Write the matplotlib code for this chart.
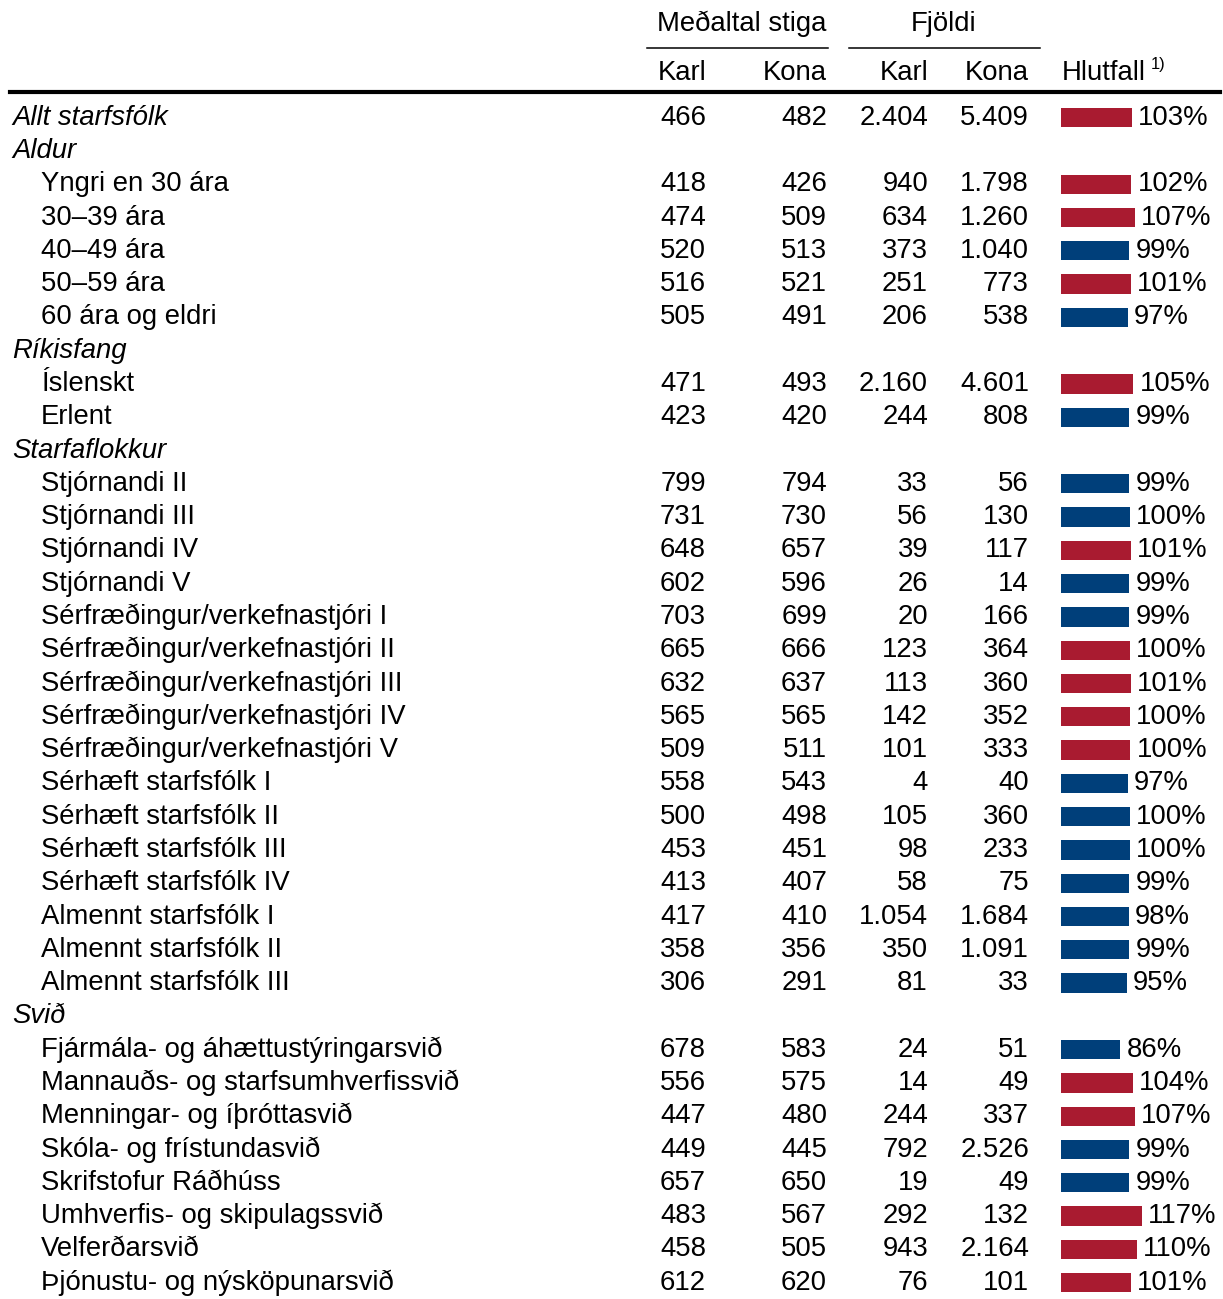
import matplotlib
matplotlib.use("Agg")
import matplotlib.pyplot as plt

plt.rcParams['font.family'] = ['Liberation Sans', 'DejaVu Sans']

# gogn
flokkar = ["Allt starfsfólk", "Aldur", "Ríkisfang", "Starfaflokkur", "Svið"]
merki = [
    "Allt starfsfólk",
    "Aldur",
    "Yngri en 30 ára", "30–39 ára", "40–49 ára", "50–59 ára", "60 ára og eldri",
    "Ríkisfang",
    "Íslenskt", "Erlent",
    "Starfaflokkur",
    "Stjórnandi II", "Stjórnandi III", "Stjórnandi IV", "Stjórnandi V",
    "Sérfræðingur/verkefnastjóri I", "Sérfræðingur/verkefnastjóri II",
    "Sérfræðingur/verkefnastjóri III", "Sérfræðingur/verkefnastjóri IV",
    "Sérfræðingur/verkefnastjóri V",
    "Sérhæft starfsfólk I", "Sérhæft starfsfólk II", "Sérhæft starfsfólk III",
    "Sérhæft starfsfólk IV",
    "Almennt starfsfólk I", "Almennt starfsfólk II", "Almennt starfsfólk III",
    "Svið",
    "Fjármála- og áhættustýringarsvið", "Mannauðs- og starfsumhverfissvið",
    "Menningar- og íþróttasvið", "Skóla- og frístundasvið", "Skrifstofur Ráðhúss",
    "Umhverfis- og skipulagssvið", "Velferðarsvið", "Þjónustu- og nýsköpunarsvið",
]
stig_karl = [466, None, 418, 474, 520, 516, 505, None, 471, 423, None,
             799, 731, 648, 602, 703, 665, 632, 565, 509, 558, 500, 453, 413,
             417, 358, 306, None, 678, 556, 447, 449, 657, 483, 458, 612]
stig_kona = [482, None, 426, 509, 513, 521, 491, None, 493, 420, None,
             794, 730, 657, 596, 699, 666, 637, 565, 511, 543, 498, 451, 407,
             410, 356, 291, None, 583, 575, 480, 445, 650, 567, 505, 620]
fjoldi_karl = [2404, None, 940, 634, 373, 251, 206, None, 2160, 244, None,
               33, 56, 39, 26, 20, 123, 113, 142, 101, 4, 105, 98, 58,
               1054, 350, 81, None, 24, 14, 244, 792, 19, 292, 943, 76]
fjoldi_kona = [5409, None, 1798, 1260, 1040, 773, 538, None, 4601, 808, None,
               56, 130, 117, 14, 166, 364, 360, 352, 333, 40, 360, 233, 75,
               1684, 1091, 33, None, 51, 49, 337, 2526, 49, 132, 2164, 101]
hlutfall = [103, None, 102, 107, 99, 101, 97, None, 105, 99, None,
            99, 99.9, 101, 99, 99, 100.2, 101, 100.1, 100.4, 97, 99.6, 99.6, 99,
            98, 99, 95, None, 86, 104, 107, 99, 99, 117, 110, 101]

RAUTT = "#A91B30"
BLATT = "#003F7A"
FS = 19.8


def fmt(v):
    return f"{v:,}".replace(",", ".")


fig = plt.figure(figsize=(12.23, 12.99), dpi=100)
ax = fig.add_axes([0, 0, 1, 1])
ax.set_xlim(0, 1223)
ax.set_ylim(35.49, -3.535)
ax.axis("off")

# sulur fyrir hlutfall
axb = fig.add_axes([1061 / 1223, 0, 162 / 1223, 1], sharey=ax)
axb.set_xlim(0, 162 / 0.69)
axb.axis("off")

# haus
ax.text(742, -2.82, "Meðaltal stiga", ha="center", va="center", fontsize=FS)
ax.text(944, -2.82, "Fjöldi", ha="center", va="center", fontsize=FS)
ax.plot([647, 828], [-2.1, -2.1], color="black", lw=1.1)
ax.plot([849, 1040], [-2.1, -2.1], color="black", lw=1.1)
for x, t in [(706, "Karl"), (827, "Kona"), (928, "Karl"), (1029, "Kona")]:
    ax.text(x, -1.35, t, ha="right", va="center", fontsize=FS)
ax.text(1062, -1.35, "Hlutfall", ha="left", va="center", fontsize=FS)
ax.text(1151, -1.6, "1)", ha="left", va="center", fontsize=FS * 0.6)
ax.plot([10, 1220], [-0.77, -0.77], color="black", lw=3)

for i, lab in enumerate(merki):
    if lab in flokkar:
        ax.text(12, i, lab, ha="left", va="center", fontsize=FS, style="italic")
    else:
        ax.text(41, i, lab, ha="left", va="center", fontsize=FS)
    if stig_karl[i] is None:
        continue
    ax.text(706, i, fmt(stig_karl[i]), ha="right", va="center", fontsize=FS)
    ax.text(827, i, fmt(stig_kona[i]), ha="right", va="center", fontsize=FS)
    ax.text(928, i, fmt(fjoldi_karl[i]), ha="right", va="center", fontsize=FS)
    ax.text(1029, i, fmt(fjoldi_kona[i]), ha="right", va="center", fontsize=FS)
    p = hlutfall[i]
    axb.barh(i, p, height=0.58, color=RAUTT if p > 100 else BLATT)
    axb.text(p + 9, i, f"{round(p)}%", ha="left", va="center", fontsize=FS)

fig.savefig("out.png", dpi=100)
